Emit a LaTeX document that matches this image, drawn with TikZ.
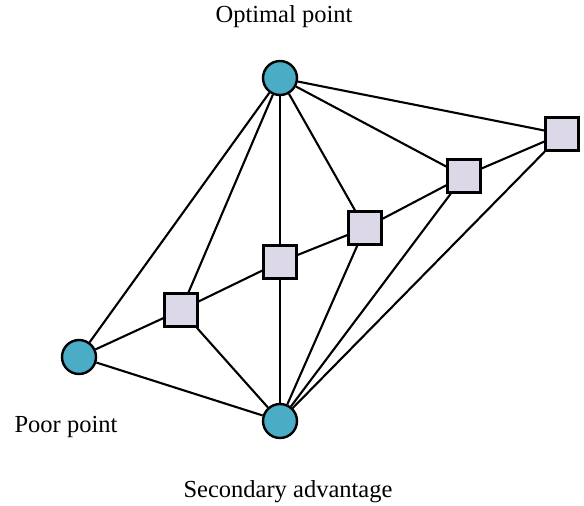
\documentclass[tikz,border=0pt]{standalone}
\usepackage{fontspec}
\setmainfont{Liberation Serif}
\usepackage{tikz}

\definecolor{pointblue}{RGB}{75,172,198}
\definecolor{boxlilac}{RGB}{221,216,232}

\tikzset{
  point/.style={circle,draw=black,fill=pointblue,line width=2.4pt,minimum size=34pt,inner sep=0pt},
  sample/.style={rectangle,draw=black,fill=boxlilac,line width=2.4pt,minimum size=33pt,inner sep=0pt},
  link/.style={line width=2.1pt,black},
  caption/.style={font=\fontsize{24.5}{29}\selectfont}
}

\begin{document}
\begin{tikzpicture}[x=1pt,y=-1pt]
  \useasboundingbox (0,0) rectangle (584,506);

  % the three reference points
  \node[point] (best) at (280,78) {};
  \node[point] (poor) at (79,357) {};
  \node[point] (second) at (280,421) {};

  % samples between them
  \node[sample] (s1) at (181,310) {};
  \node[sample] (s2) at (280,262) {};
  \node[sample] (s3) at (365,228) {};
  \node[sample] (s4) at (464,176) {};
  \node[sample] (s5) at (562,134) {};

  % chain from the poor point through the samples
  \draw[link] (poor) -- (s1) -- (s2) -- (s3) -- (s4) -- (s5);
  \draw[link] (poor) -- (best);
  \draw[link] (poor) -- (second);

  \foreach \s in {s1,s2,s3,s4,s5} {
    \draw[link] (best) -- (\s);
    \draw[link] (second) -- (\s);
  }

  % labels
  \node[caption] (lbest) at (284,17) {Optimal point};
  \node[caption] (lpoor) at (66,427) {Poor point};
  \node[caption] (lsecond) at (288,492) {Secondary advantage};
\end{tikzpicture}
\end{document}
